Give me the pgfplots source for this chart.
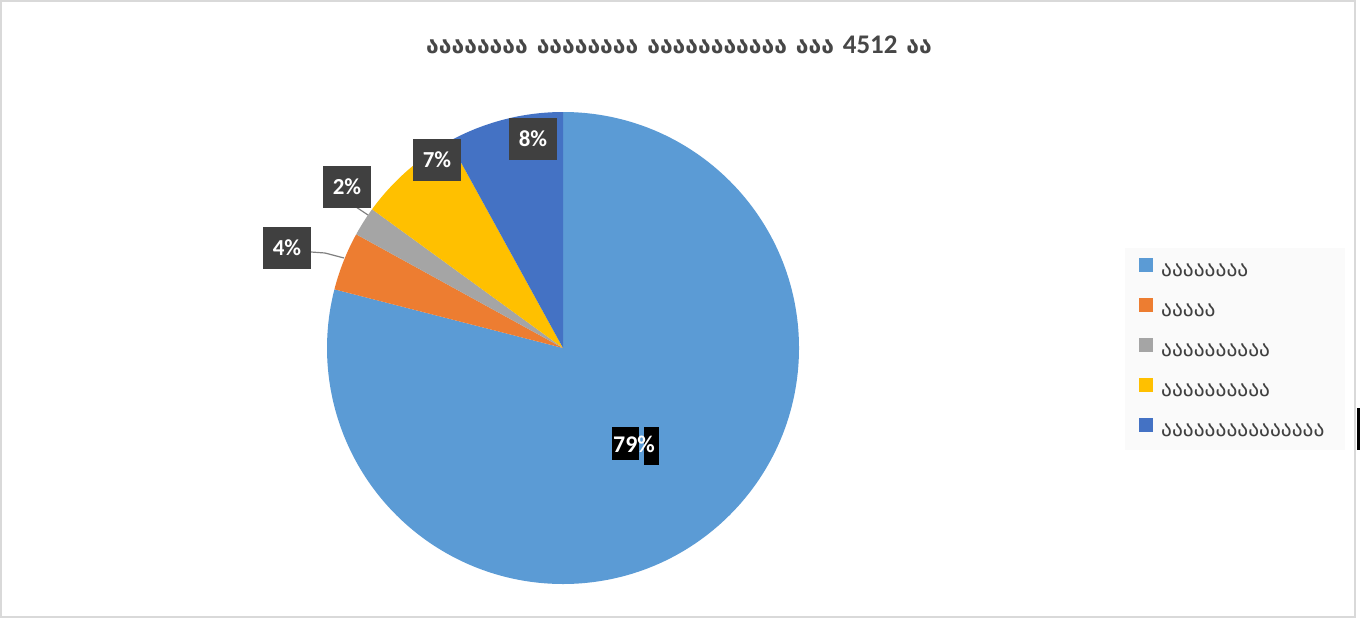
\documentclass[border=0pt]{standalone}
\usepackage{fontspec}
\setmainfont{Carlito}
\newfontfamily\geo{DejaVu Sans}
\usepackage{pgfplots}
\usepackage{pgfplotstable}
\pgfplotsset{compat=1.18}

\definecolor{pA}{HTML}{5B9BD5}
\definecolor{pB}{HTML}{ED7D31}
\definecolor{pC}{HTML}{A5A5A5}
\definecolor{pD}{HTML}{FFC000}
\definecolor{pE}{HTML}{4472C4}
\definecolor{txt}{HTML}{474747}
\definecolor{lbl}{HTML}{404040}

% shares of the pie, clockwise from 12 o'clock
\pgfplotstableread{
value
79
4
2
7
8
}\pie

\newcommand\gw{\hspace{9bp}}

\begin{document}
\begin{tikzpicture}
\begin{axis}[
    at={(0,0)}, anchor=south west,
    scale only axis,
    width=1361bp, height=624bp,
    xmin=0, xmax=1361, ymin=0, ymax=624,
    y dir=reverse,
    hide axis,
    clip=false,
]
\pgfplotsextra{
  % frame
  \fill[white] (axis cs:0,0) rectangle (axis cs:1361,624);
  \draw[black!15, line width=1.2bp] (axis cs:1,1) rectangle (axis cs:1355,617);
  \fill[black] (axis cs:1357,408) rectangle (axis cs:1360,450);
  % wedges
  \gdef\cum{0}
  \foreach \i/\c in {0/pA,1/pB,2/pC,3/pD,4/pE}{
    \pgfplotstablegetelem{\i}{value}\of\pie
    \let\v\pgfplotsretval
    \pgfmathsetmacro\a{90-3.6*\cum}
    \pgfmathsetmacro\b{90-3.6*(\cum+\v)}
    \fill[\c] (axis cs:563,348) -- ++(\a:236bp)
        arc[start angle=\a, end angle=\b, radius=236bp] -- cycle;
    \pgfmathsetmacro\n{\cum+\v}
    \xdef\cum{\n}
  }
  % leader lines
  \draw[black!50, line width=1.2bp] (axis cs:311,252) -- (axis cs:325,253) -- (axis cs:344,258);
  \draw[black!50, line width=1.2bp] (axis cs:356,207) -- (axis cs:368,215);
  % data labels
  \foreach \x/\y/\t in {533/139/8, 437/160/7, 347/187/2, 287/248/4}{
    \fill[lbl] (axis cs:\x-24,\y-21) rectangle (axis cs:\x+24,\y+21);
    \node[text=white, font=\fontsize{23}{26}\selectfont\bfseries]
        at (axis cs:\x,\y) {\t\%};
  }
  \fill[black] (axis cs:612,427) rectangle (axis cs:639,460);
  \fill[black] (axis cs:644,427) rectangle (axis cs:659,465);
  \node[text=white, font=\fontsize{24}{27}\selectfont\bfseries]
      at (axis cs:634,444) {79\%};
  % title
  \node[text=txt, font=\fontsize{27}{30}\selectfont\bfseries] at (axis cs:679,45)
    {{\geo\fontsize{23}{26}\selectfont\bfseries აააააააა\gw აააააააა\gw ააააააააააა\gw ააა}\gw 4512\gw{\geo\fontsize{23}{26}\selectfont\bfseries აა}};
  % legend
  \fill[black!2] (axis cs:1125,248) rectangle (axis cs:1345,450);
  \foreach \c/\y/\t in {pA/270/აააააააა, pB/310/ააააა, pC/350/აააააააააა, pD/390/აააააააააა, pE/430/ააააააააააააააა}{
    \fill[\c] (axis cs:1139,\y-12) rectangle (axis cs:1153,\y+2);
    \node[anchor=west, inner sep=0pt, text=lbl, font=\geo\fontsize{21.5}{24}\selectfont]
      at (axis cs:1161,\y) {\t};
  }
}
\end{axis}
\end{tikzpicture}
\end{document}
